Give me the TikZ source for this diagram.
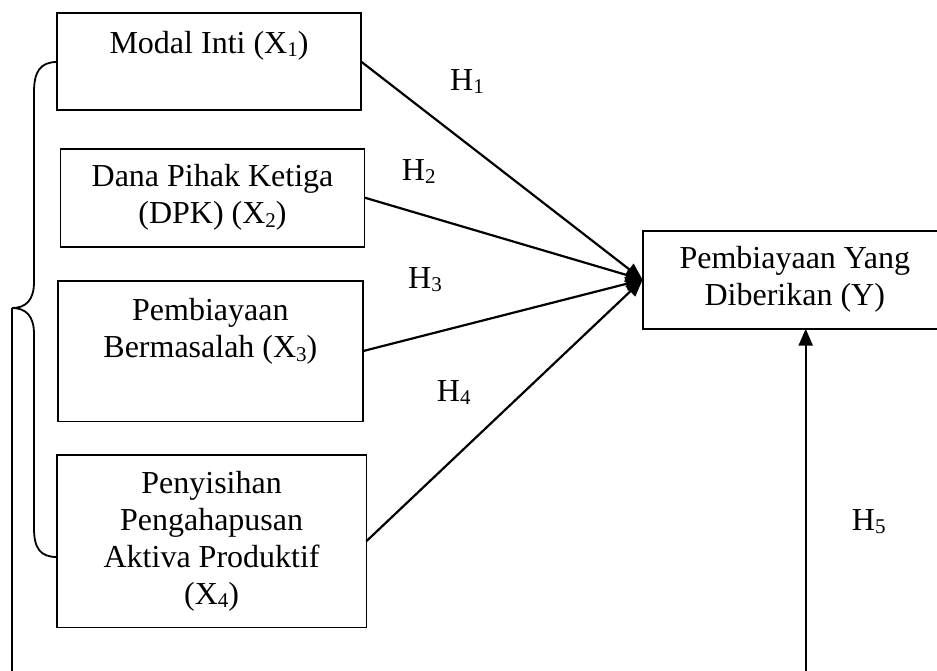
\documentclass[tikz,border=0pt]{standalone}
\usepackage{fontspec}
\setmainfont{Liberation Serif}
\usetikzlibrary{arrows.meta}
\newcommand{\mysub}[1]{\raisebox{-0.1em}{\fontsize{21}{21}\selectfont #1}}
\begin{document}
\begin{tikzpicture}[x=1pt,y=-1pt,
  box/.style={draw, line width=1.8pt, rectangle, inner sep=0pt, outer sep=0pt, align=center, font=\fontsize{32}{37}\selectfont},
  txt/.style={inner sep=0pt, align=center, font=\fontsize{32}{37}\selectfont},
  arr/.style={line width=2.2pt, -{Triangle[length=17pt,width=14pt]}},
  lbl/.style={inner sep=0pt, anchor=base west, font=\fontsize{32}{37}\selectfont},
  brace/.style={line width=1.8pt}]
\useasboundingbox[fill=white] (0,0) rectangle (937,670);
% boxes
\node[box, minimum width=304, minimum height=97] (x1) at (209,61.5) {};
\node[txt, anchor=base] (t1) at (209,53.3) {Modal Inti (X\mysub{1})};
\node[box, minimum width=304, minimum height=98] (x2) at (212.5,197.6) {Dana Pihak Ketiga\\(DPK) (X\mysub{2})};
\node[box, minimum width=305, minimum height=140.6] (x3) at (210.4,351.1) {};
\node[txt] (t3) at (210.4,331.7) {Pembiayaan\\Bermasalah (X\mysub{3})};
\node[box, minimum width=309.6, minimum height=172.4] (x4) at (211.6,541.2) {Penyisihan\\Pengahapusan\\Aktiva Produktif\\(X\mysub{4})};
\node[box, minimum width=304.4, minimum height=98] (y) at (794.8,279.7) {Pembiayaan Yang\\Diberikan (Y)};
% arrows
\draw[arr] (x1.east) -- (y.west);
\draw[arr] (x2.east) -- (y.west);
\draw[arr] (x3.east) -- (y.west);
\draw[arr] (x4.east) -- (y.west);
\coordinate (h5b) at (805.7,675);
\draw[arr] (h5b) -- (h5b |- y.south);
% labels
\node[lbl] (h1) at (450,90) {H\mysub{1}};
\node[lbl] (h2) at (401.7,180.7) {H\mysub{2}};
\node[lbl] (h3) at (408,288) {H\mysub{3}};
\node[lbl] (h4) at (436.7,401.7) {H\mysub{4}};
\node[lbl] (h5) at (851.7,530) {H\mysub{5}};
% brace
\coordinate (btop) at (57,62);
\coordinate (btip) at (12,308);
\coordinate (bbot) at (57,557);
\coordinate (lbot) at (12,675);
\draw[brace] (btop) .. controls (40,62) and (34,72) .. (34,92) -- (34,282)
  .. controls (34,300) and (26,308) .. (btip)
  .. controls (26,308) and (34,316) .. (34,334) -- (34,528)
  .. controls (34,548) and (40,557) .. (bbot);
\draw[brace] (btip) -- (lbot);
\end{tikzpicture}
\end{document}
